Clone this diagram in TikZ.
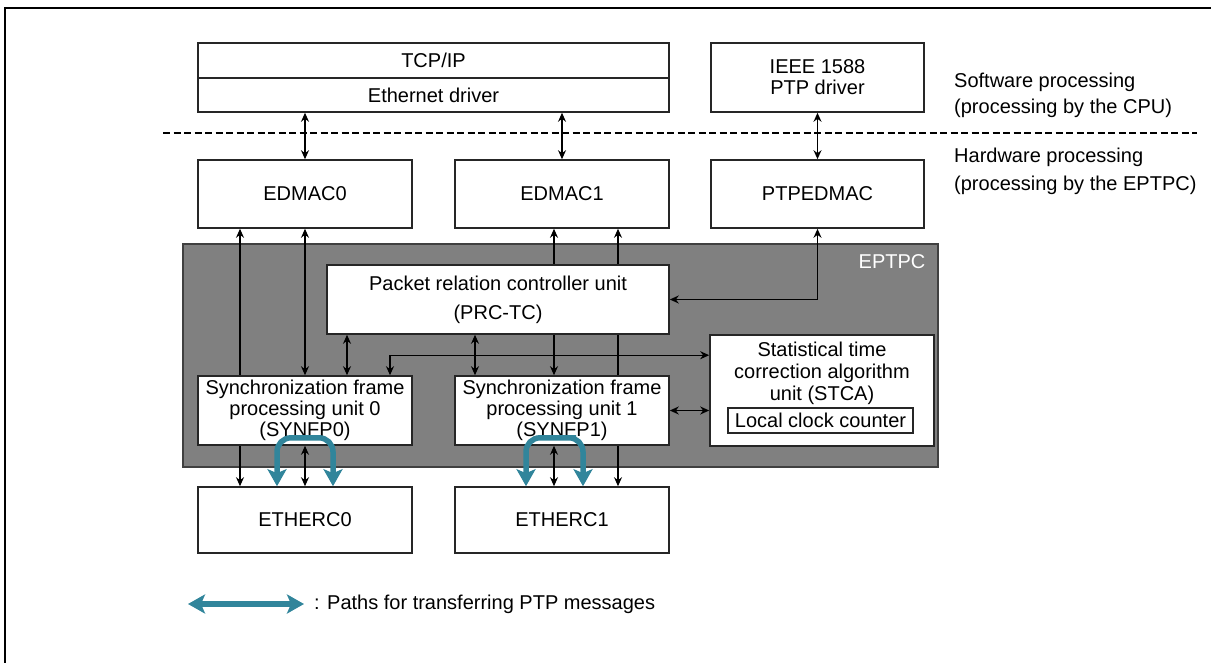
\documentclass[tikz,border=0pt]{standalone}
\usepackage{fontspec}
\setmainfont{Liberation Sans}
\usetikzlibrary{arrows.meta, backgrounds, positioning}
\pgfdeclarelayer{edges}
\pgfsetlayers{background,edges,main}
\definecolor{ptpteal}{RGB}{49,133,155}
\definecolor{eptpcgray}{RGB}{128,128,128}

\begin{document}
\begin{tikzpicture}[x=1pt, y=-1pt, >=Stealth,
    font=\fontsize{20}{21}\selectfont]
  \tikzset{
    box/.style={draw=black!85, line width=1.6pt, fill=white,
      minimum width=214, minimum height=68, inner sep=0pt, align=center},
    arr/.style={-{Stealth[length=9pt,width=8pt]}, line width=1.4pt},
    biarr/.style={{Stealth[length=9pt,width=8pt]}-{Stealth[length=9pt,width=8pt]},
      line width=1.4pt},
    ptp/.style={{Stealth[length=17pt,width=19pt,inset=4pt]}-{Stealth[length=17pt,width=19pt,inset=4pt]},
      line width=5.5pt, draw=ptpteal, rounded corners=14pt},
    divline/.style={line width=2pt, dash pattern=on 7pt off 3.5pt},
    edgeframe/.style={line width=2.5pt},
  }
  \useasboundingbox (0,0) rectangle (1211,663);
  \draw[edgeframe] (1211,8) -- (5,8) -- (5,663);
  % Software
  \node[box, minimum width=471, minimum height=35] (tcpip) at (433.5,60.5) {TCP/IP};
  \node[box, minimum width=471, minimum height=34] (ethdrv) at (433.5,95) {Ethernet driver};
  \node[box, minimum width=213, minimum height=69] (ieee) at (817.5,77.5)
    {IEEE 1588\\PTP driver};
  \node[anchor=west, align=left, inner sep=0pt] (swlbl) at (954,95)
    {Software processing\\[5pt](processing by the CPU)};
  \draw[divline] (163,133) -- (1197,133);
  \node[anchor=west, align=left, inner sep=0pt] (hwlbl) at (954,171)
    {Hardware processing\\[7pt](processing by the EPTPC)};
  % DMA controllers
  \node[box] (edmac0) at (305,194) {EDMAC0};
  \node[box] (edmac1) at (562,194) {EDMAC1};
  \node[box, minimum width=213] (ptpedmac) at (817.5,194) {PTPEDMAC};
  % EPTPC
  \begin{pgfonlayer}{background}
    \node[draw=black!75, line width=1.2pt, fill=eptpcgray, inner sep=0pt,
      minimum width=755, minimum height=223] (eptpc) at (560.5,355.5) {};
  \end{pgfonlayer}
  \node[text=white, anchor=east, inner sep=0pt] (eptpclbl)
    at ([xshift=-13pt,yshift=-18pt]eptpc.north east) {EPTPC};
  \node[box, minimum width=342, minimum height=69] (prc) at (498,299.5)
    {Packet relation controller unit\\[8pt](PRC-TC)};
  \node[box, minimum width=224, minimum height=111] (stca) at (822,390.5) {};
  \node[align=center, anchor=north, inner sep=0pt,
    font=\fontsize{20}{22}\selectfont] (stcatxt) at ([yshift=-7.5pt]stca.north)
    {Statistical time\\correction algorithm\\unit (STCA)};
  \node[box, line width=1.4pt, minimum width=185, minimum height=25] (lcc)
    at (820.5,420.5) {Local clock counter};
  \node[box, minimum height=69] (synfp0) at (305,410.5)
    {Synchronization frame\\processing unit 0\\(SYNFP0)};
  \node[box, minimum height=69] (synfp1) at (562,410.5)
    {Synchronization frame\\processing unit 1\\(SYNFP1)};
  % PHY side
  \node[box, minimum height=66] (etherc0) at (305,520) {ETHERC0};
  \node[box, minimum height=66] (etherc1) at (562,520) {ETHERC1};
  % Connectors
  \path ([xshift=42pt]synfp0.north) coordinate (s0p)
        ([xshift=85pt]synfp0.north) coordinate (s0s)
        ([xshift=-87pt]synfp1.north) coordinate (s1p)
        ([xshift=-8pt]synfp1.north) coordinate (s1e)
        ([xshift=56pt]synfp1.north) coordinate (s1o);
  \begin{pgfonlayer}{edges}
    \draw[biarr] (ethdrv.south -| edmac0.north) -- (edmac0.north);
    \draw[biarr] (ethdrv.south -| edmac1.north) -- (edmac1.north);
    \draw[biarr] (ieee.south) -- (ptpedmac.north);
    \draw[arr] ([xshift=-65pt]synfp0.north) -- ([xshift=-65pt]edmac0.south);
    \draw[biarr] (edmac0.south) -- (synfp0.north);
    \draw[biarr] (s0p) -- (s0p |- prc.south);
    \draw[biarr] (s0s) |- ([yshift=-21pt]stca.north west);
    \draw[biarr] (s1p) -- (s1p |- prc.south);
    \draw[biarr] (s1e) -- (s1e |- edmac1.south);
    \draw[arr] (s1o) -- (s1o |- edmac1.south);
    \draw[biarr] (ptpedmac.south) |- (prc.east);
    \draw[biarr] (synfp1.east) -- (synfp1.east -| stca.west);
    \draw[arr] ([xshift=-65pt]synfp0.south) -- ([xshift=-65pt]etherc0.north);
    \draw[biarr] (synfp0.south) -- (etherc0.north);
    \draw[biarr] ([xshift=-8pt]synfp1.south) -- ([xshift=-8pt]etherc1.north);
    \draw[arr] ([xshift=56pt]synfp1.south) -- ([xshift=56pt]etherc1.north);
  \end{pgfonlayer}
  % PTP message paths
  \draw[ptp] ([xshift=-28pt]etherc0.north) |- ([yshift=8pt]synfp0.south)
    -| ([xshift=28pt]etherc0.north);
  \draw[ptp] ([xshift=-36pt]etherc1.north) |- ([yshift=8pt]synfp1.south)
    -| ([xshift=21pt]etherc1.north);
  % Legend
  \node[anchor=west, inner sep=0pt] (lgtxt) at (314,604)
    {: Paths for transferring PTP messages};
  \coordinate (lgarr) at (188,604);
  \draw[ptp] (lgarr) -- ([xshift=-10pt]lgtxt.west);
\end{tikzpicture}
\end{document}
